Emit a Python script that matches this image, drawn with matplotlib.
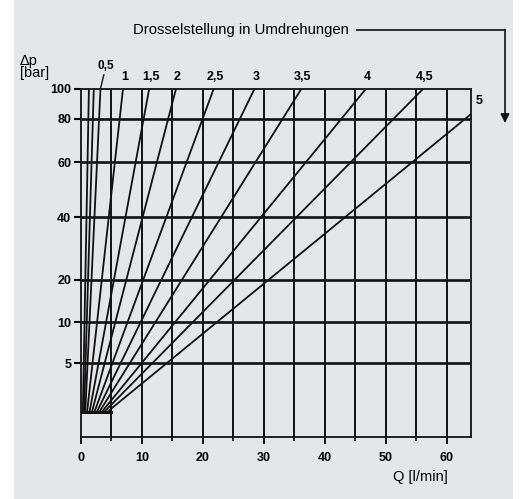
import numpy as np
import matplotlib
matplotlib.use('Agg')
import matplotlib.pyplot as plt
from matplotlib.lines import Line2D
from matplotlib.patches import Rectangle

plt.rcParams['font.family'] = ['Liberation Sans', 'DejaVu Sans']

# throttle setting (turns) and line end points
labels  = ['', '', '0,5', '1', '1,5', '2', '2,5', '3', '3,5', '4', '4,5', '5']
q_start = [0.3, 0.5, 0.7, 1.0, 1.4, 1.8, 2.2, 2.6, 3.0, 3.4, 3.8, 4.3]   # l/min at dp = 0
q_end   = [1.3, 2.1, 3.2, 6.9, 11.2, 15.6, 21.8, 28.5, 36.2, 46.8, 56.2, 64.0]
p_end   = [100, 100, 100, 100, 100, 100, 100, 100, 100, 100, 100, 83]
p_ticks = [5, 10, 20, 40, 60, 80, 100]
q_ticks = [0, 10, 20, 30, 40, 50, 60]

# the dp axis of the original is hand drawn, not a clean power law;
# map it piecewise from the tick positions
kp = np.array([0, 5, 10, 20, 40, 60, 80, 100], float)
kpos = np.array([25, 73.7, 114.3, 157, 219.3, 274.3, 317.7, 347.7])
s0 = (kpos[1] - kpos[0]) / (kp[1] - kp[0])
s1 = (kpos[-1] - kpos[-2]) / (kp[-1] - kp[-2])

def fwd(p):
    p = np.asarray(p, float)
    return np.interp(p, kp, kpos) + np.minimum(p, 0) * s0 + np.maximum(p - 100, 0) * s1

def inv(y):
    y = np.asarray(y, float)
    return (np.interp(y, kpos, kp) + np.minimum(y - kpos[0], 0) / s0
            + np.maximum(y - kpos[-1], 0) / s1)

W, H = 521, 499
fig = plt.figure(figsize=(W / 100, H / 100), dpi=100, facecolor='white')
fig.add_artist(Rectangle((14 / W, 0), (513 - 14) / W, 1, transform=fig.transFigure,
                         facecolor='#e5e6e8', edgecolor='none', zorder=-10))
ax = fig.add_axes([81 / W, (H - 437) / H, (471 - 81) / W, (437 - 88.5) / H])
ax.set_facecolor('none')
ax.set_yscale('function', functions=(fwd, inv))
ybot = -kpos[0] / s0
ax.set_xlim(0, 64)
ax.set_ylim(ybot, 100)

# grid
ax.vlines(np.arange(5, 64, 5), ybot, 100, color='#111111', lw=1.4, zorder=1)
ax.hlines([5, 10, 20, 40, 60, 80], 0, 64, color='#111111', lw=1.9, zorder=1)
ax.plot([0, 5], [0, 0], color='#111111', lw=2.2, zorder=2)

for lab, qs, qe, pe in zip(labels, q_start, q_end, p_end):
    ax.plot([qs, qe], [0, pe], color='#111111', lw=1.3, zorder=3, solid_capstyle='butt')
    if not lab:
        continue
    if lab == '0,5':
        ax.annotate(lab, xy=(qe, pe), xytext=(4, 12), textcoords='offset points',
                    ha='center', va='bottom', fontsize=8.5, fontweight='bold',
                    annotation_clip=False,
                    arrowprops=dict(arrowstyle='-', lw=1.0, color='#111111',
                                    shrinkA=0, shrinkB=0))
    elif pe < 100:
        ax.annotate(lab, xy=(qe, pe), xytext=(3, 5), textcoords='offset points',
                    ha='left', va='bottom', fontsize=9, fontweight='bold',
                    annotation_clip=False)
    else:
        ax.annotate(lab, xy=(qe, pe), xytext=(1, 4), textcoords='offset points',
                    ha='center', va='bottom', fontsize=9, fontweight='bold',
                    annotation_clip=False)

for s in ax.spines.values():
    s.set_linewidth(1.3)
    s.set_color('#111111')

ax.set_yticks(p_ticks)
ax.set_yticklabels([str(v) for v in p_ticks], fontweight='bold', fontsize=9)
ax.set_xticks(q_ticks)
ax.set_xticklabels([str(v) for v in q_ticks], fontweight='bold', fontsize=9)
ax.set_xticks(np.arange(5, 64, 10), minor=True)
ax.tick_params(axis='y', length=5, width=1.5, pad=2, direction='out')
ax.tick_params(axis='x', which='major', length=5, width=1.3, pad=6, direction='out')
ax.tick_params(axis='x', which='minor', length=3, width=1.2, direction='out')
ax.yaxis.set_minor_locator(matplotlib.ticker.NullLocator())

fig.text(241 / W, 1 - 30 / H, 'Drosselstellung in Umdrehungen', ha='center', va='center',
         fontsize=10.7)
fig.add_artist(Line2D([357 / W, 505 / W], [1 - 30 / H, 1 - 30 / H], transform=fig.transFigure,
                      color='#111111', lw=1.2))
ax.annotate('', xy=(505 / W, 1 - 123 / H), xytext=(505 / W, 1 - 29.4 / H),
            xycoords='figure fraction', textcoords='figure fraction', annotation_clip=False,
            arrowprops=dict(arrowstyle='-|>', lw=1.2, color='#111111', mutation_scale=13,
                            shrinkA=0, shrinkB=0))
fig.text(20 / W, 1 - 67 / H, '\u0394p\n[bar]', ha='left', va='center', fontsize=10.5,
         linespacing=0.9)
fig.text(420 / W, 1 - 477 / H, 'Q [l/min]', ha='center', va='center', fontsize=10.5)

fig.savefig('out.png', dpi=100, facecolor=fig.get_facecolor())
